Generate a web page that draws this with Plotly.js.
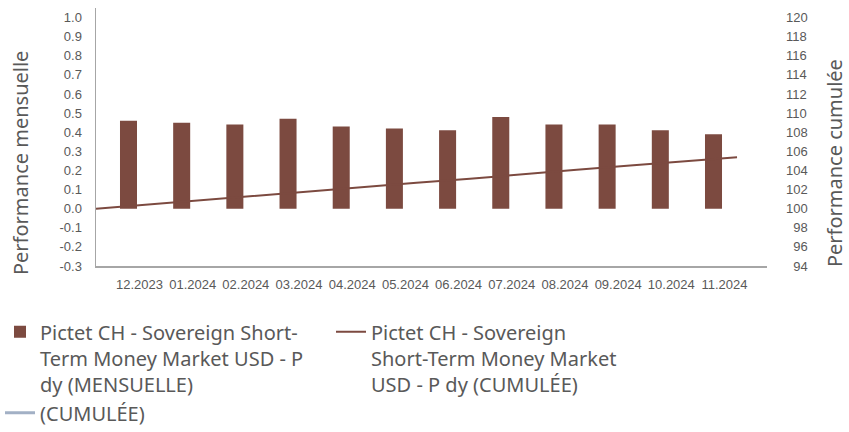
<!DOCTYPE html>
<html>
<head>
<meta charset="utf-8">
<script src="https://cdn.plot.ly/plotly-3.0.1.min.js"></script>
<style>html,body{margin:0;padding:0;background:#fff;}#chart{width:849px;height:432px;}</style>
</head>
<body>
<div id="chart"></div>
<script>
// Monthly performance (bars, left axis, %)
const months = ['12.2023','01.2024','02.2024','03.2024','04.2024','05.2024','06.2024','07.2024','08.2024','09.2024','10.2024','11.2024'];
const monthlyPerf = [0.46, 0.45, 0.44, 0.47, 0.43, 0.42, 0.41, 0.48, 0.44, 0.44, 0.41, 0.39];

// Cumulative performance (line, right axis, base 100)
const cumulDates = ['11.2023','12.2023','01.2024','02.2024','03.2024','04.2024','05.2024','06.2024','07.2024','08.2024','09.2024','10.2024','11.2024'];
const cumulPerf = [100, 100.46, 100.91, 101.36, 101.83, 102.27, 102.70, 103.12, 103.62, 104.07, 104.53, 104.96, 105.37];

// Axis tick labels
const leftTickVals = [-0.3, -0.2, -0.1, 0.0, 0.1, 0.2, 0.3, 0.4, 0.5, 0.6, 0.7, 0.8, 0.9, 1.0];
const leftTickText = ['-0.3','-0.2','-0.1','0.0','0.1','0.2','0.3','0.4','0.5','0.6','0.7','0.8','0.9','1.0'];
const rightTickVals = [94, 96, 98, 100, 102, 104, 106, 108, 110, 112, 114, 116, 118, 120];
const rightTickText = ['\u200794','\u200796','\u200798','100','102','104','106','108','110','112','114','116','118','120'];

const leftTitle = 'Performance mensuelle';
const rightTitle = 'Performance cumulée';
const seriesNames = [
  'Pictet CH - Sovereign Short-<br>Term Money Market USD - P<br>dy (MENSUELLE)',
  'Pictet CH - Sovereign<br>Short-Term Money Market<br>USD - P dy (CUMULÉE)',
  '(CUMULÉE)'
];

const brown = '#7c4a40';
const tickFont = {family: '"Liberation Sans Narrow", "Liberation Sans", sans-serif', size: 13, color: '#595959'};
const titleFont = {family: '"Noto Sans", sans-serif', size: 20, color: '#595959'};

const traces = [
  {
    type: 'bar', name: seriesNames[0], x: months, y: monthlyPerf,
    marker: {color: brown}, width: 0.32, xaxis: 'x', yaxis: 'y', hoverinfo: 'skip'
  },
  {
    type: 'scatter', mode: 'lines', name: seriesNames[1], x: cumulDates, y: cumulPerf,
    line: {color: brown, width: 2}, xaxis: 'x2', yaxis: 'y2', hoverinfo: 'skip'
  },
  {
    type: 'scatter', mode: 'lines', name: seriesNames[2], x: [null], y: [null],
    line: {color: '#a2b0c5', width: 3}, xaxis: 'x2', yaxis: 'y2', hoverinfo: 'skip'
  }
];

const layout = {
  width: 849, height: 432,
  margin: {l: 96, r: 82, t: 8, b: 166},
  paper_bgcolor: '#ffffff', plot_bgcolor: '#ffffff',
  showlegend: true,
  xaxis: {
    type: 'category', range: [-0.611, 12.006], automargin: false,
    showgrid: false, zeroline: false, showline: true, linecolor: '#a6a6a6', linewidth: 1.5,
    ticks: '', tickangle: 0, tickfont: tickFont, ticklabelstandoff: 6, ticklabelshift: 11, fixedrange: true
  },
  xaxis2: {
    type: 'category', overlaying: 'x', range: [0, 12.561], visible: false, fixedrange: true
  },
  yaxis: {
    range: [-0.3, 1.05], tickvals: leftTickVals, ticktext: leftTickText, automargin: false,
    showgrid: false, zeroline: false, showline: true, linecolor: '#a6a6a6', linewidth: 1.5,
    ticks: '', tickfont: tickFont, ticklabelstandoff: 10
  },
  yaxis2: {
    overlaying: 'y', side: 'right', anchor: 'x', range: [94, 121], automargin: false,
    tickvals: rightTickVals, ticktext: rightTickText,
    showgrid: false, zeroline: false, showline: false,
    ticks: '', tickfont: tickFont, ticklabelstandoff: 18
  },
  annotations: [
    {text: leftTitle, xref: 'paper', yref: 'paper', x: -0.1133, y: 0.399,
     xanchor: 'center', yanchor: 'middle', textangle: -90, showarrow: false, font: titleFont},
    {text: rightTitle, xref: 'paper', yref: 'paper', x: 1.0999, y: 0.399,
     xanchor: 'center', yanchor: 'middle', textangle: -90, showarrow: false, font: titleFont}
  ],
  legend: {
    orientation: 'h', xref: 'container', yref: 'container',
    x: 0, xanchor: 'left', y: 0.277, yanchor: 'top', valign: 'top',
    font: {family: '"Noto Sans", sans-serif', size: 20, color: '#595959'},
    entrywidth: 286, entrywidthmode: 'pixels', itemwidth: 30,
    bgcolor: 'rgba(0,0,0,0)', tracegroupgap: 0
  }
};

Plotly.newPlot('chart', traces, layout, {displayModeBar: false, staticPlot: true});
</script>
</body>
</html>
